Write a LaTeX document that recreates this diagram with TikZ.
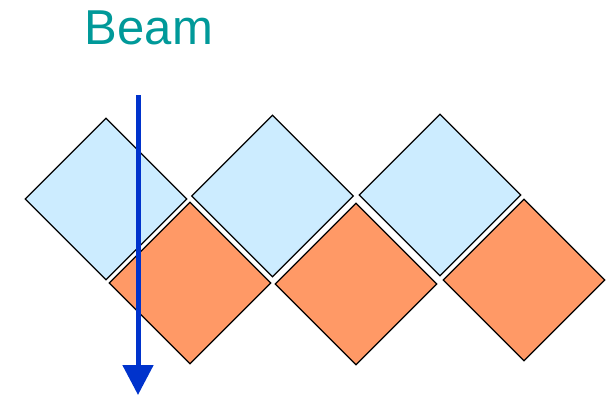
\documentclass[tikz,border=0pt]{standalone}
\usepackage{fontspec}
\setmainfont{Liberation Sans}
\usetikzlibrary{shapes.geometric,arrows.meta}
\definecolor{lightblue}{RGB}{204,236,255}
\definecolor{orangefill}{RGB}{255,153,102}
\definecolor{beamblue}{RGB}{0,51,204}
\definecolor{teal}{RGB}{0,153,153}
\tikzset{
  tile/.style={draw=black, line width=1.2pt, shape=diamond, aspect=1, inner sep=0pt,
    minimum width=162pt, minimum height=162pt},
  upper/.style={tile, fill=lightblue},
  lower/.style={tile, fill=orangefill},
  beamarrow/.style={draw=beamblue, line width=5pt, -{Triangle[width=30pt,length=30pt]}},
  label/.style={text=teal, font=\fontsize{49}{55}\selectfont, inner sep=0pt}
}
\begin{document}
\begin{tikzpicture}[x=1pt,y=-1pt]
\useasboundingbox (0,0) rectangle (606,396);
\node[upper] (b1) at (106,199) {};
\node[upper] (b2) at (272.5,196) {};
\node[upper] (b3) at (440,195) {};
\node[lower] (o1) at (190,283) {};
\node[lower] (o2) at (356,284) {};
\node[lower] (o3) at (524,280) {};
\node[label, anchor=base] (beam) at (149,45) {Beam};
\coordinate (bstart) at (138,95);
\coordinate (bend) at (138,395);
\draw[beamarrow] (bstart) -- (bend);
\end{tikzpicture}
\end{document}
